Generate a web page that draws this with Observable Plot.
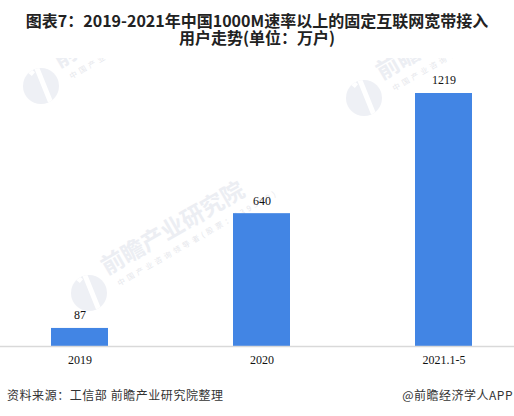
<!DOCTYPE html>
<html><head><meta charset="utf-8">
<script src="https://cdn.jsdelivr.net/npm/d3@7"></script>
<script src="https://cdn.jsdelivr.net/npm/@observablehq/plot@0.6"></script>
<style>
html,body{margin:0;padding:0;background:#fff;width:514px;height:416px;overflow:hidden}
#t{position:absolute;left:0;top:12px;width:514px;text-align:center;font:bold 16px/16.5px "Noto Sans CJK SC","Liberation Sans",sans-serif;color:#222}
#c{position:absolute;left:0;top:60px}
#wm{position:absolute;left:0;top:58px;width:514px;height:290px;overflow:hidden}
.mark{position:absolute;width:0;height:0}
.logo{position:absolute;left:-18px;top:-18px;width:36px;height:36px;border-radius:50%;background:#eef0f5;overflow:hidden}
.logo i{position:absolute;left:19px;top:-6px;width:5px;height:50px;background:#fff;transform:rotate(-22deg)}
.logo b{position:absolute;left:6px;top:2px;width:5px;height:5px;background:#fff;transform:rotate(40deg)}
.wt{position:absolute;white-space:nowrap;transform-origin:0 100%;transform:rotate(-30deg)}
.main{left:19px;bottom:16px;font:bold 23px/23px "Noto Sans CJK SC";color:#eceef3}
.sub{left:31px;bottom:6px;font:7.5px/8px "Noto Sans CJK SC";letter-spacing:3.2px;color:#e6e7ec}
#src{position:absolute;left:7px;top:387px;font:12px/16px "Noto Sans CJK SC";letter-spacing:.55px;color:#333}
#app{position:absolute;right:1px;top:387px;font:12px/16px "Noto Sans CJK SC";letter-spacing:.5px;color:#333}
</style></head><body>
<div id="t">图表7：2019-2021年中国1000M速率以上的固定互联网宽带接入<br>用户走势(单位：万户)</div>
<div id="wm">
<div class="mark" style="left:41px;top:28px"><div class="logo"><i></i><b></b></div><div class="wt main">前瞻</div><div class="wt sub">中国产业咨</div></div>
<div class="mark" style="left:364px;top:40px"><div class="logo"><i></i><b></b></div><div class="wt main">前瞻</div><div class="wt sub">中国产业咨询领</div></div>
<div class="mark" style="left:89px;top:235px"><div class="logo"><i></i><b></b></div><div class="wt main">前瞻产业研究院</div><div class="wt sub">中国产业咨询领导者(股票：839599)</div></div>
</div>
<div id="c"></div>
<div id="src">资料来源：工信部 前瞻产业研究院整理</div>
<div id="app">@前瞻经济学人APP</div>
<script>
const categories=["2019","2020","2021.1-5"];
const users=[87,640,1219];
const table=categories.map((c,i)=>({c,v:users[i]}));
const chart=Plot.plot({width:514,height:300,marginTop:33,marginBottom:14,marginLeft:0,marginRight:0,
style:{fontFamily:"Liberation Serif",fontSize:"12px",color:"#111",background:"transparent",overflow:"visible"},
x:{domain:categories,label:null,range:[0,523],paddingInner:0.687,paddingOuter:0.28,tickSize:0,tickPadding:9,fontSize:12},
y:{domain:[0,1219],axis:null},
marks:[
Plot.barY(table,{x:"c",y:"v",fill:"#4285e4"}),
Plot.text(table,{x:"c",y:"v",text:d=>String(d.v),dy:-13,fontSize:12,fill:"#111"}),
Plot.ruleY([0],{stroke:"#d9d9d9",strokeWidth:1.5})
]});
document.getElementById("c").append(chart);
</script></body></html>
